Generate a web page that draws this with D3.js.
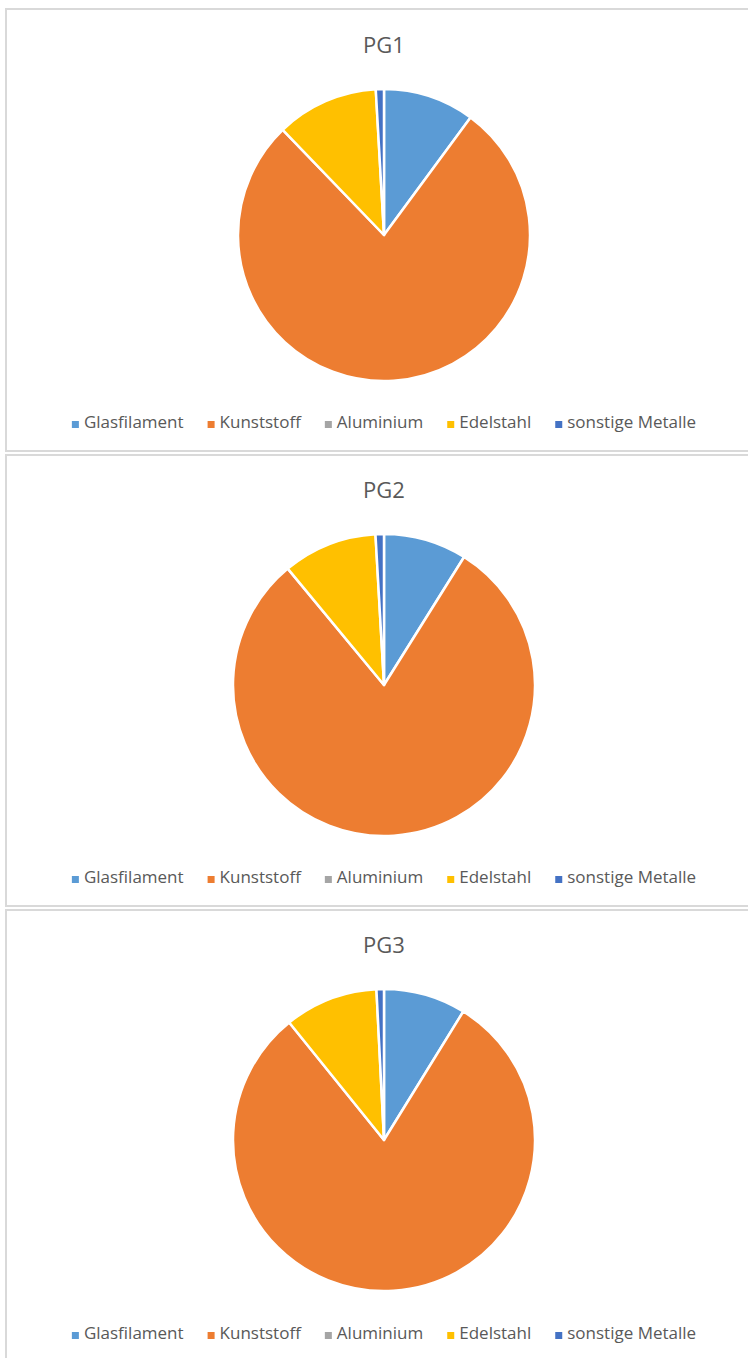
<!DOCTYPE html>
<html>
<head>
<meta charset="utf-8">
<script src="https://cdn.jsdelivr.net/npm/d3@7"></script>
<style>
  html, body { margin: 0; padding: 0; background: #fff; }
  svg { display: block; }
</style>
</head>
<body>
<div id="chart"></div>
<script>
const categories = ['Glasfilament', 'Kunststoff', 'Aluminium', 'Edelstahl', 'sonstige Metalle'];
const chartTitles = ['PG1', 'PG2', 'PG3'];
const pg1Values = [10.1, 77.7, 0, 11.3, 0.9];
const pg2Values = [8.9, 80.1, 0, 10.1, 0.9];
const pg3Values = [8.8, 80.4, 0, 10.0, 0.8];
const colors = ['#5b9bd5', '#ed7d31', '#a5a5a5', '#ffc000', '#4472c4'];

const allValues = [pg1Values, pg2Values, pg3Values];

const width = 748;
const height = 1358;
const fontFamily = '"Open Sans", "Noto Sans", sans-serif';

// panel boxes (excel chart areas), right edge runs off the page
const panels = [
    { top: 9, bottom: 451, radius: 146, cy: 235, titleY: 53, legendY: 422 },
    { top: 455, bottom: 906, radius: 151, cy: 685, titleY: 498, legendY: 877 },
    { top: 910, bottom: 1370, radius: 151, cy: 1140, titleY: 953, legendY: 1333 }
];
const panelLeft = 6;
const panelRight = 762;
const cx = (panelLeft + panelRight) / 2;

const svg = d3.select('#chart')
  .append('svg')
    .attr('width', width)
    .attr('height', height);

const color = d3.scaleOrdinal().domain(categories).range(colors);

const pie = d3.pie()
    .sort(null)
    .value(function (d) { return d.value; });

panels.forEach(function (p, i) {
    const g = svg.append('g').classed('panel', true);

    g.append('rect')
        .attr('x', panelLeft)
        .attr('y', p.top)
        .attr('width', panelRight - panelLeft)
        .attr('height', p.bottom - p.top)
        .attr('fill', '#fff')
        .attr('stroke', '#d9d9d9')
        .attr('stroke-width', 2);

    g.append('text')
        .attr('x', cx)
        .attr('y', p.titleY)
        .attr('text-anchor', 'middle')
        .attr('font-family', fontFamily)
        .attr('font-size', 22)
        .attr('fill', '#595959')
        .text(chartTitles[i]);

    const data = categories.map(function (c, j) {
        return { name: c, value: allValues[i][j] };
    });

    const arc = d3.arc().innerRadius(0).outerRadius(p.radius);

    g.append('g')
        .attr('transform', `translate(${cx}, ${p.cy})`)
      .selectAll('path')
      .data(pie(data).filter(function (d) { return d.data.value > 0; }))
      .enter()
      .append('path')
        .attr('d', arc)
        .attr('fill', function (d) { return color(d.data.name); })
        .attr('stroke', '#fff')
        .attr('stroke-width', 2.5)
        .attr('stroke-linejoin', 'round');

    // legend
    const legend = g.append('g').classed('legend', true);
    const items = legend.selectAll('.item')
      .data(categories)
      .enter()
      .append('g')
        .classed('item', true);

    items.append('rect')
        .attr('width', 7)
        .attr('height', 7)
        .attr('y', -7)
        .attr('fill', function (d) { return color(d); });

    items.append('text')
        .attr('x', 12)
        .attr('font-family', fontFamily)
        .attr('font-size', 17)
        .attr('fill', '#595959')
        .text(function (d) { return d; });

    const gap = 24;
    const widths = [];
    items.each(function () {
        widths.push(12 + d3.select(this).select('text').node().getComputedTextLength());
    });
    const total = d3.sum(widths) + gap * (widths.length - 1);
    let x = cx - total / 2;
    items.attr('transform', function (d, j) {
        const t = `translate(${x}, ${p.legendY + 6})`;
        x += widths[j] + gap;
        return t;
    });
});
</script>
</body>
</html>
